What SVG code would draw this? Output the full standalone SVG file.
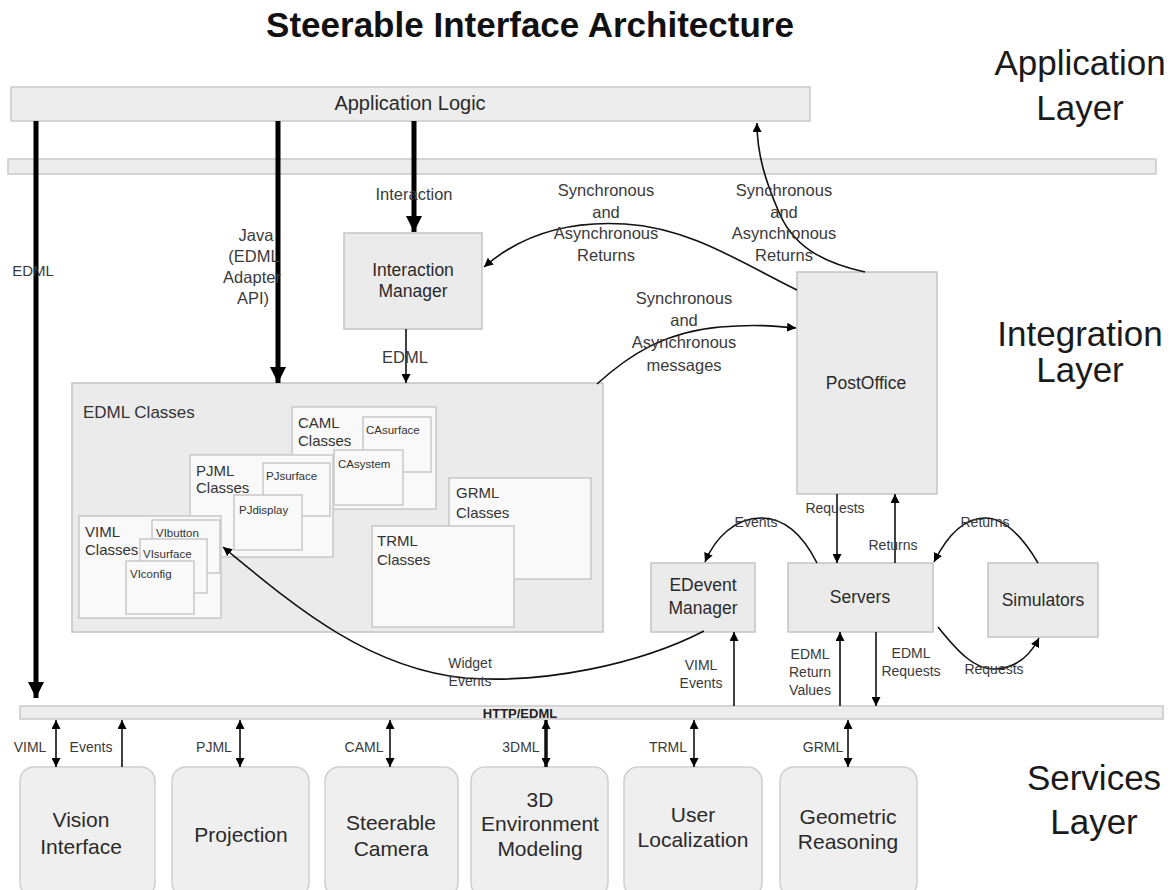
<svg xmlns="http://www.w3.org/2000/svg" width="1176" height="890" viewBox="0 0 1176 890">
<style>
text{font-family:"Liberation Sans",Arial,sans-serif;fill:#2a2a2a}
.title{font-size:35px;font-weight:bold;fill:#111;text-anchor:middle}
.layer{font-size:35px;fill:#1a1a1a;text-anchor:middle}
.bar{fill:#ededed;stroke:#c9c9c9;stroke-width:1.5}
.box{fill:#ebebeb;stroke:#c4c4c4;stroke-width:1.5}
.inner{fill:#f9f9f9;stroke:#c8c8c8;stroke-width:1.5}
.svc{fill:#efefef;stroke:#cfcfcf;stroke-width:1.5}
.n{font-size:17.5px;text-anchor:middle}
.s{font-size:21px;text-anchor:middle}
.l{font-size:16.5px;text-anchor:middle;fill:#3a3a3a}
.sm{font-size:14px;text-anchor:middle;fill:#3a3a3a}
.c{font-size:15px;fill:#333}
.t{font-size:11.5px;fill:#333}
.thick{stroke:#000;stroke-width:5;fill:none;marker-end:url(#th)}
.thin{stroke:#111;stroke-width:1.6;fill:none;marker-end:url(#ah)}
.dbl{stroke:#111;stroke-width:1.6;fill:none;marker-start:url(#ah);marker-end:url(#ah)}
</style>
<defs>
<marker id="ah" viewBox="0 0 10 10" refX="10" refY="5" markerWidth="9" markerHeight="9" markerUnits="userSpaceOnUse" orient="auto-start-reverse"><path d="M0,0 L10,5 L0,10 z" fill="#000"/></marker>
<marker id="th" viewBox="0 0 10 10" refX="10" refY="5" markerWidth="18" markerHeight="16" markerUnits="userSpaceOnUse" orient="auto"><path d="M0,0 L10,5 L0,10 z" fill="#000"/></marker>
</defs>

<text class="title" x="530" y="37">Steerable Interface Architecture</text>
<text class="layer" x="1080" y="75">Application</text>
<text class="layer" x="1080" y="120">Layer</text>
<text class="layer" x="1080" y="346">Integration</text>
<text class="layer" x="1080" y="382">Layer</text>
<text class="layer" x="1094" y="790">Services</text>
<text class="layer" x="1094" y="834">Layer</text>

<g id="application-logic">
<rect class="bar" x="11" y="87" width="799" height="34"/>
<text x="410" y="110" style="font-size:20px;text-anchor:middle">Application Logic</text>
</g>
<g id="integration-bar"><rect class="bar" x="8" y="159" width="1148" height="15"/></g>
<g id="http-bar">
<rect class="bar" x="20" y="706" width="1143" height="13"/>
<text x="520" y="718" style="font-size:13px;font-weight:bold;fill:#222;text-anchor:middle">HTTP/EDML</text>
</g>

<g id="interaction-manager">
<rect class="box" x="344" y="233" width="138" height="96"/>
<text class="n" x="413" y="276">Interaction</text>
<text class="n" x="413" y="297">Manager</text>
</g>

<g id="postoffice">
<rect class="box" x="797" y="272" width="140" height="222"/>
<text class="n" x="866" y="389">PostOffice</text>
</g>

<g id="edml-classes">
<rect class="box" x="72" y="383" width="531" height="249"/>
<text x="83" y="418" style="font-size:17px;fill:#333">EDML Classes</text>
<g id="caml-classes">
<rect class="inner" x="292" y="407" width="144" height="102"/>
<text class="c" x="298" y="428">CAML</text>
<text class="c" x="298" y="446">Classes</text>
<rect class="inner" x="363" y="417" width="68" height="55"/>
<text class="t" x="366" y="434">CAsurface</text>
<rect class="inner" x="334" y="450" width="69" height="55"/>
<text class="t" x="338" y="468">CAsystem</text>
</g>
<g id="grml-classes">
<rect class="inner" x="449" y="478" width="142" height="101"/>
<text class="c" x="456" y="498">GRML</text>
<text class="c" x="456" y="518">Classes</text>
</g>
<g id="trml-classes">
<rect class="inner" x="372" y="526" width="142" height="101"/>
<text class="c" x="377" y="546">TRML</text>
<text class="c" x="377" y="565">Classes</text>
</g>
<g id="pjml-classes">
<rect class="inner" x="190" y="455" width="143" height="102"/>
<text class="c" x="196" y="476">PJML</text>
<text class="c" x="196" y="493">Classes</text>
<rect class="inner" x="263" y="463" width="67" height="53"/>
<text class="t" x="266" y="480">PJsurface</text>
<rect class="inner" x="234" y="495" width="68" height="55"/>
<text class="t" x="239" y="514">PJdisplay</text>
</g>
<g id="viml-classes">
<rect class="inner" x="79" y="516" width="142" height="102"/>
<text class="c" x="85" y="537">VIML</text>
<text class="c" x="85" y="555">Classes</text>
<rect class="inner" x="152" y="520" width="68" height="53"/>
<text class="t" x="156" y="537">VIbutton</text>
<rect class="inner" x="140" y="539" width="67" height="54"/>
<text class="t" x="143" y="558">VIsurface</text>
<rect class="inner" x="126" y="561" width="68" height="53"/>
<text class="t" x="130" y="578">VIconfig</text>
</g>
</g>

<g id="edevent-manager">
<rect class="box" x="651" y="563" width="104" height="69"/>
<text class="n" x="703" y="591">EDevent</text>
<text class="n" x="703" y="614">Manager</text>
</g>
<g id="servers">
<rect class="box" x="788" y="563" width="145" height="69"/>
<text class="n" x="860" y="603">Servers</text>
</g>
<g id="simulators">
<rect class="box" x="988" y="563" width="110" height="74"/>
<text class="n" x="1043" y="606">Simulators</text>
</g>

<g id="vision-interface">
<rect class="svc" x="20" y="767" width="135" height="130" rx="14"/>
<text class="s" x="81" y="827">Vision</text>
<text class="s" x="81" y="854">Interface</text>
</g>
<g id="projection">
<rect class="svc" x="172" y="767" width="137" height="130" rx="14"/>
<text class="s" x="241" y="842">Projection</text>
</g>
<g id="steerable-camera">
<rect class="svc" x="325" y="767" width="133" height="130" rx="14"/>
<text class="s" x="391" y="830">Steerable</text>
<text class="s" x="391" y="856">Camera</text>
</g>
<g id="environment-modeling">
<rect class="svc" x="471" y="767" width="137" height="130" rx="14"/>
<text class="s" x="540" y="807">3D</text>
<text class="s" x="540" y="831">Environment</text>
<text class="s" x="540" y="856">Modeling</text>
</g>
<g id="user-localization">
<rect class="svc" x="624" y="767" width="138" height="130" rx="14"/>
<text class="s" x="693" y="822">User</text>
<text class="s" x="693" y="847">Localization</text>
</g>
<g id="geometric-reasoning">
<rect class="svc" x="780" y="767" width="137" height="130" rx="14"/>
<text class="s" x="848" y="824">Geometric</text>
<text class="s" x="848" y="849">Reasoning</text>
</g>

<g id="connectors">
<path class="thick" d="M36,121 L36,698"/>
<path class="thick" d="M278,121 L278,383"/>
<path class="thick" d="M414,121 L414,232"/>
<path class="thin" d="M406,329 L406,383"/>
<path class="thin" d="M797,290 C740,262 690,228 625,224 C560,220 515,240 484,267"/>
<path class="thin" d="M865,272 C820,262 792,245 778,210 C766,182 757,155 757,123"/>
<path class="thin" d="M597,384 C630,354 665,332 720,327 C755,324 775,326 796,328"/>
<path class="thin" d="M837,494 L837,563"/>
<path class="thin" d="M895,563 L895,494"/>
<path class="thin" d="M817,563 C802,533 784,518 761,518 C735,518 715,538 705,562"/>
<path class="thin" d="M1038,563 C1022,536 1005,518 985,518 C962,518 945,540 934,562"/>
<path class="thin" d="M938,627 C958,652 975,670 995,669 C1015,668 1030,656 1039,638"/>
<path class="thin" d="M704,631 C640,664 545,684 465,678 C365,668 290,602 223,547"/>
<path class="thin" d="M734,706 L734,632"/>
<path class="thin" d="M840,706 L840,632"/>
<path class="thin" d="M876,632 L876,706"/>
<path class="dbl" d="M56,720 L56,767"/>
<path class="thin" d="M122,767 L122,720"/>
<path class="dbl" d="M240,720 L240,767"/>
<path class="dbl" d="M390,720 L390,767"/>
<path class="dbl" d="M546,720 L546,767" style="stroke-width:3.5"/>
<path class="dbl" d="M694,720 L694,767"/>
<path class="dbl" d="M848,720 L848,767"/>

<text class="l" x="33" y="276" style="font-size:15px">EDML</text>
<text class="l" x="256" y="241">Java</text>
<text class="l" x="254" y="262">(EDML</text>
<text class="l" x="252" y="283">Adapter</text>
<text class="l" x="253" y="304">API)</text>
<text class="l" x="414" y="200">Interaction</text>
<text class="l" x="405" y="363">EDML</text>
<text class="l" x="606" y="196">Synchronous</text>
<text class="l" x="606" y="218">and</text>
<text class="l" x="606" y="239">Asynchronous</text>
<text class="l" x="606" y="261">Returns</text>
<text class="l" x="784" y="196">Synchronous</text>
<text class="l" x="784" y="218">and</text>
<text class="l" x="784" y="239">Asynchronous</text>
<text class="l" x="784" y="261">Returns</text>
<text class="l" x="684" y="304">Synchronous</text>
<text class="l" x="684" y="326">and</text>
<text class="l" x="684" y="348">Asynchronous</text>
<text class="l" x="684" y="371">messages</text>
<text class="sm" x="835" y="513">Requests</text>
<text class="sm" x="893" y="550">Returns</text>
<text class="sm" x="756" y="527">Events</text>
<text class="sm" x="985" y="527">Returns</text>
<text class="sm" x="994" y="674">Requests</text>
<text class="sm" x="470" y="668">Widget</text>
<text class="sm" x="470" y="686">Events</text>
<text class="sm" x="701" y="670">VIML</text>
<text class="sm" x="701" y="688">Events</text>
<text class="sm" x="810" y="659">EDML</text>
<text class="sm" x="810" y="677">Return</text>
<text class="sm" x="810" y="695">Values</text>
<text class="sm" x="911" y="658">EDML</text>
<text class="sm" x="911" y="676">Requests</text>
<text class="sm" x="30" y="752">VIML</text>
<text class="sm" x="91" y="752">Events</text>
<text class="sm" x="214" y="752">PJML</text>
<text class="sm" x="364" y="752">CAML</text>
<text class="sm" x="521" y="752">3DML</text>
<text class="sm" x="668" y="752">TRML</text>
<text class="sm" x="823" y="752">GRML</text>
</g>
</svg>
